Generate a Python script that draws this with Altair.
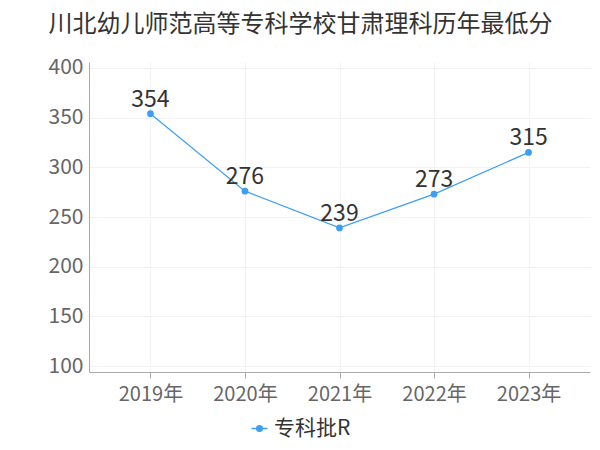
import altair as alt
import pandas as pd

years = ["2019年", "2020年", "2021年", "2022年", "2023年"]
scores = [354, 276, 239, 273, 315]
series = ["专科批R"] * 5
y_ticks = [100, 150, 200, 250, 300, 350, 400]

df = pd.DataFrame({"year": years, "score": scores, "series": series})
color = "#3d9ef5"
font = "Noto Sans CJK SC"

x = alt.X("year:N", sort=years, scale=alt.Scale(type="point", padding=0.65),
          axis=alt.Axis(title=None, labelAngle=0, labelFontSize=20, labelColor="#666",
                        labelPadding=6, tickColor="#aaa", tickSize=6, domainColor="#aaa",
                        grid=True, gridColor="#f2f2f2", labelFont=font))
y = alt.Y("score:Q", scale=alt.Scale(domain=[94, 406], nice=False, zero=False),
          axis=alt.Axis(title=None, values=y_ticks, labelFontSize=21, labelColor="#666",
                        labelPadding=6, ticks=False, domainColor="#aaa",
                        gridColor="#f2f2f2", labelFont=font))

col = alt.Color("series:N", scale=alt.Scale(range=[color]),
                legend=alt.Legend(title=None, orient="none", legendX=160, legendY=356,
                                  labelFontSize=21, labelColor="#333", labelFont=font,
                                  symbolType="M-1,0H1M-0.35,0A0.35,0.35 0 1,1 0.35,0A0.35,0.35 0 1,1 -0.35,0",
                                  symbolSize=256, symbolStrokeWidth=1.5, symbolFillColor=color,
                                  symbolStrokeColor=color, labelOffset=4))

base = alt.Chart(df)
line = base.mark_line(strokeWidth=1.2).encode(x=x, y=y, color=col)
pts = base.mark_point(filled=True, size=45, opacity=1).encode(
    x=x, y=y, color=alt.Color("series:N", scale=alt.Scale(range=[color]), legend=None))
labels = base.mark_text(dy=-14, fontSize=23, color="#333", font=font).encode(
    x=x, y=y, text="score:Q")

chart = (line + pts + labels).properties(
    width=501, height=310,
    autosize=alt.AutoSizeParams(type="none"),
    padding={"left": 81, "top": 54, "right": 2, "bottom": 70},
    title=alt.TitleParams("川北幼儿师范高等专科学校甘肃理科历年最低分", fontSize=24,
                          color="#333", fontWeight="normal", anchor="middle", dx=-39,
                          offset=20, font=font),
).configure_view(stroke=None).configure_axis(gridWidth=1)

chart.save("out.html", embed_options={"renderer": "svg", "actions": False})
